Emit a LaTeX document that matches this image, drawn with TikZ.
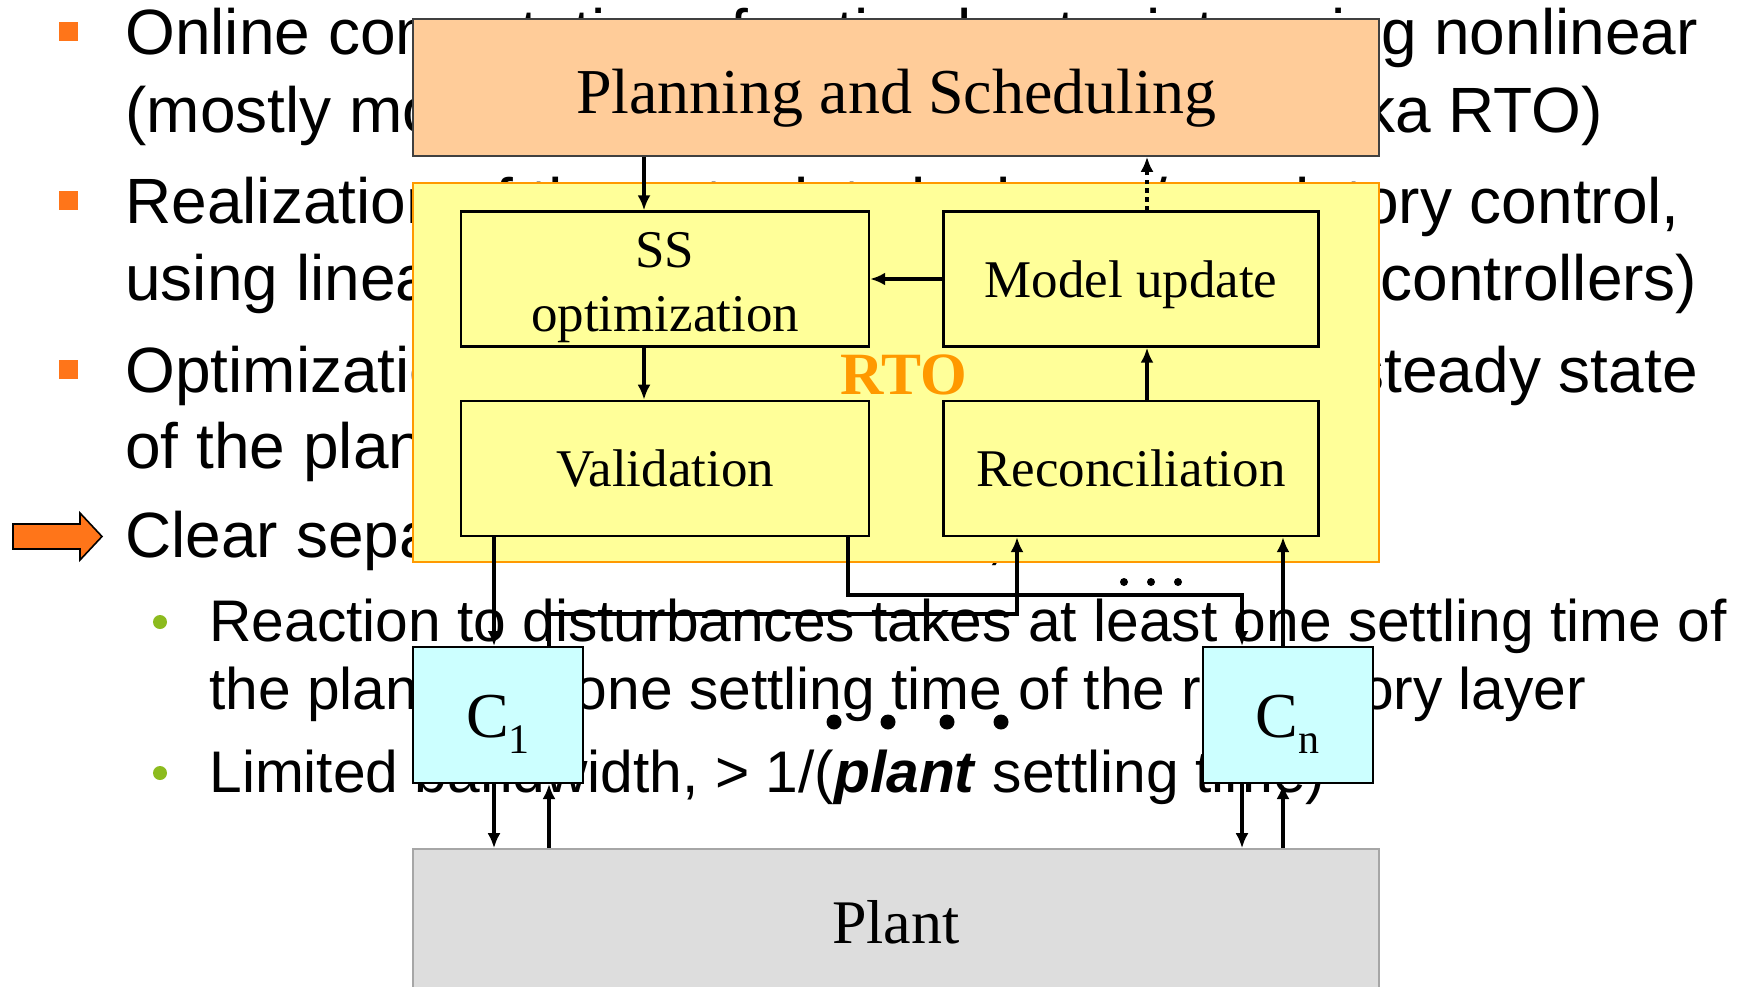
\documentclass[tikz,border=0pt]{standalone}
\usepackage{fontspec}
\setmainfont{Liberation Serif}
\newfontfamily\arialfont{Liberation Sans}
\usetikzlibrary{positioning, arrows.meta}

\definecolor{salmon}{RGB}{255,204,153}
\definecolor{amarillo}{RGB}{255,255,153}
\definecolor{naranja}{RGB}{255,153,0}
\definecolor{cian}{RGB}{204,255,255}
\definecolor{grisplanta}{RGB}{221,221,221}
\definecolor{vineta}{RGB}{255,117,25}
\definecolor{verde}{RGB}{140,187,30}

% subíndice de los controladores
\newcommand{\subc}[1]{\raisebox{-8pt}{\fontsize{21}{21}\selectfont #1}}

\begin{document}
\begin{tikzpicture}[x=0.5pt, y=-0.5pt, >={Latex[length=7.5pt,width=6.5pt]},
    texto/.style={anchor=base west, inner sep=0pt,
      font=\arialfont\fontsize{32}{38}\selectfont},
    subtexto/.style={anchor=base west, inner sep=0pt,
      font=\arialfont\fontsize{29.35}{35}\selectfont},
    bloque/.style={draw, line width=1.2pt, fill=amarillo, minimum height=67.5pt,
      inner sep=0pt, align=center, text depth=0pt,
      font=\fontsize{26.5}{32}\selectfont},
    controlador/.style={draw, line width=1pt, fill=cian, minimum width=85pt,
      minimum height=68pt, inner sep=0pt, text height=22pt, text depth=0pt,
      font=\fontsize{32}{38}\selectfont},
    senal/.style={->, line width=1.6pt}]

  \clip (0,0) rectangle (1746,986);
  \fill[white] (0,0) rectangle (1746,986);

  % Texto de la diapositiva.
  \node[texto] (t1) at (125,54) {Online computation of optimal setpoints using nonlinear};
  \node[texto] (t2) at (125,132) {(mostly model-based) online optimization (aka RTO)};
  \node[texto] (t3) at (125,223) {Realization of the setpoints by lower/regulatory control,};
  \node[texto] (t4) at (125,300) {using linear (mostly model predictive and PI controllers)};
  \node[texto] (t5) at (125,392) {Optimization is based on the models of the steady state};
  \node[texto] (t6) at (125,468) {of the plant};
  \node[texto] (t7) at (125,557) {Clear separation of timescales,};
  \node[subtexto] (t8) at (209,641) {Reaction to disturbances takes at least one settling time of};
  \node[subtexto] (t9) at (209,709) {the plant plus one settling time of the regulatory layer};
  \node[subtexto] (t10) at (209,792) {Limited bandwidth, > 1/(\textbf{\textit{plant}} settling time)};

  % Viñetas.
  \foreach \y in {54,223,392}
    \fill[vineta] (59,\y-32) rectangle (78,\y-13);
  \foreach \y in {641,792}
    \fill[verde] (160,\y-19) circle (7);
  \filldraw[fill=vineta, draw=black, line width=0.8pt] (13,524) -- (80,524)
    -- (80,513) -- (102,536.5) -- (80,560) -- (80,549) -- (13,549) -- cycle;

  % Bloques del esquema.
  \node[draw=black!75, line width=0.8pt, fill=salmon, minimum width=483pt,
    minimum height=68.5pt, text height=26pt, text depth=0pt,
    font=\fontsize{32}{38}\selectfont] (plan) at (896,87.5)
    {Planning and Scheduling};
  \node[draw=naranja, line width=1pt, fill=amarillo, minimum width=483pt,
    minimum height=189.5pt] (rto) at (896,372.5) {};
  \node[bloque, minimum width=204pt, text height=52pt] (ss) at (665,279) {SS\\optimization};
  \node[bloque, minimum width=187.5pt, right=36pt of ss] (mu) {Model update};
  \node[bloque, minimum width=204pt, below=26pt of ss] (val) {Validation};
  \node[bloque, minimum width=187.5pt, below=26pt of mu] (rec) {Reconciliation};
  \node[text=naranja, font=\bfseries\fontsize{30}{36}\selectfont] (etq) at (904,375) {RTO};

  \node[controlador] (c1) at (498,715) {C\subc{1}};
  \node[controlador] (cn) at (1287.5,715) {C\subc{n}};
  \node[draw=black!35, line width=0.8pt, fill=grisplanta, minimum width=483pt,
    minimum height=73pt, font=\fontsize{31}{37}\selectfont] (planta) at (896,922) {Plant};

  % Coordenadas auxiliares de las señales.
  \coordinate (xa) at (644,0);
  \coordinate (xb) at (1147,0);
  \coordinate (xc) at (494,0);
  \coordinate (xd) at (549,0);
  \coordinate (xe) at (848,0);
  \coordinate (xf) at (1017,0);
  \coordinate (xg) at (1242,0);
  \coordinate (xh) at (1283,0);
  \coordinate (ya) at (0,595);
  \coordinate (yb) at (0,614);

  % Dibujamos las señales.
  \draw[senal] (plan.south -| xa) -- (ss.north -| xa);
  \draw[senal, dash pattern=on 2.2pt off 2.2pt] (mu.north -| xb) -- (plan.south -| xb);
  \draw[senal] (mu.west) -- (ss.east);
  \draw[senal] (ss.south -| xa) -- (val.north -| xa);
  \draw[senal] (rec.north -| xb) -- (mu.south -| xb);
  \draw[senal] (val.south -| xc) -- (c1.north -| xc);
  \draw[senal] (val.south -| xe) |- (ya -| xg) -- (cn.north -| xg);
  \draw[senal] (c1.north -| xd) |- (yb -| xf) -- (rec.south -| xf);
  \draw[senal] (cn.north -| xh) -- (rec.south -| xh);
  \draw[senal] (c1.south -| xc) -- (planta.north -| xc);
  \draw[senal] (planta.north -| xd) -- (c1.south -| xd);
  \draw[senal] (cn.south -| xg) -- (planta.north -| xg);
  \draw[senal] (planta.north -| xh) -- (cn.south -| xh);

  % Puntos suspensivos.
  \foreach \x in {1124,1151,1178}
    \fill (\x,582) circle (4);
  \foreach \x in {834,888,947,1001}
    \fill (\x,722) circle (7.5);

\end{tikzpicture}
\end{document}
